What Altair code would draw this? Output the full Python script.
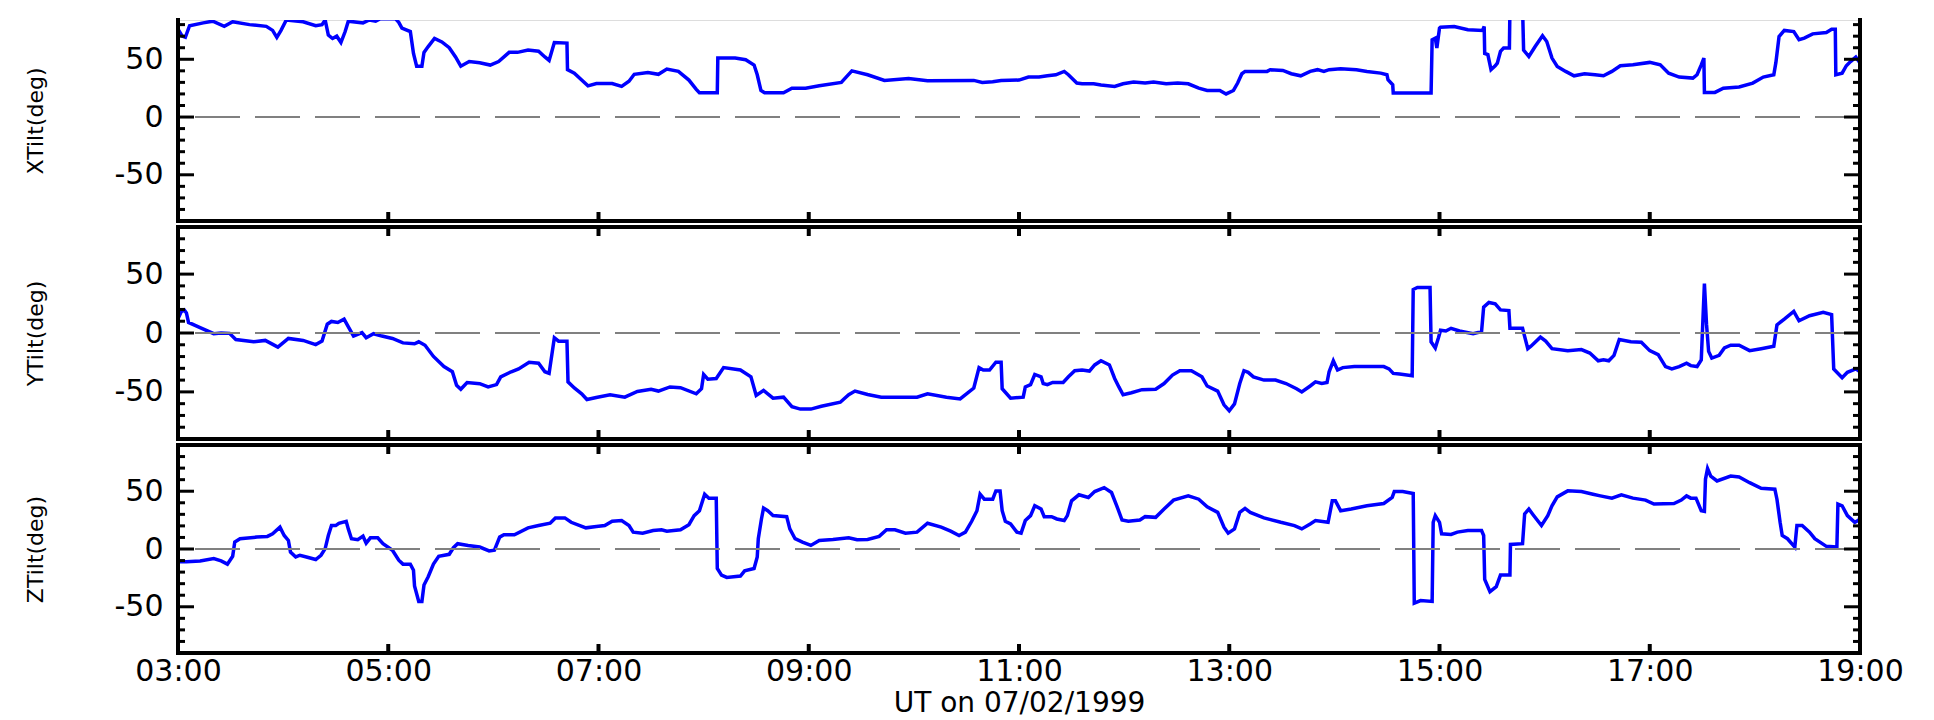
import altair as alt
import pandas as pd

FONT = "DejaVu Sans"

# ---------------- data (hours UT, degrees) ----------------
x_time = [3.00, 3.04, 3.07, 3.11, 3.24, 3.33, 3.44, 3.52, 3.68, 3.84, 3.90, 3.94, 3.98, 4.03, 4.19, 4.31,
          4.37, 4.40, 4.43, 4.47, 4.51, 4.55, 4.59, 4.62, 4.76, 4.82, 4.88, 4.92, 5.07, 5.10, 5.13, 5.21,
          5.24, 5.27, 5.32, 5.34, 5.38, 5.44, 5.51, 5.58, 5.64, 5.69, 5.77, 5.87, 5.97, 6.05, 6.15, 6.23,
          6.33, 6.43, 6.49, 6.53, 6.58, 6.70, 6.705, 6.77, 6.84, 6.90, 6.98, 7.13, 7.22, 7.29, 7.34, 7.47,
          7.57, 7.65, 7.76, 7.86, 7.93, 7.96, 8.13, 8.135, 8.30, 8.40, 8.48, 8.51, 8.545, 8.58, 8.76, 8.84,
          8.97, 9.10, 9.31, 9.41, 9.56, 9.72, 9.95, 10.13, 10.57, 10.65, 10.75, 10.83, 11.00,
          11.09, 11.19, 11.27, 11.35, 11.43, 11.47, 11.55, 11.60, 11.71, 11.78, 11.91, 11.99, 12.09, 12.20,
          12.28, 12.40, 12.51, 12.61, 12.71, 12.79, 12.91, 12.97, 13.04, 13.08, 13.12, 13.15, 13.36, 13.39,
          13.51, 13.59, 13.68, 13.77, 13.84, 13.90, 13.95, 14.06, 14.21, 14.31, 14.44, 14.50, 14.51, 14.555,
          14.56, 14.92, 14.93, 14.96, 14.975, 15.00, 15.01, 15.14, 15.27, 15.41, 15.425, 15.43, 15.46, 15.49,
          15.53, 15.55, 15.58, 15.61, 15.665, 15.67, 15.79, 15.80, 15.85, 15.91, 15.98, 16.02, 16.07, 16.12,
          16.20, 16.28, 16.38, 16.48, 16.56, 16.64, 16.72, 16.84, 17.00, 17.10, 17.18, 17.28, 17.41, 17.45,
          17.49, 17.515, 17.52, 17.62, 17.70, 17.85, 17.98, 18.08, 18.18, 18.20, 18.23, 18.28, 18.37, 18.42,
          18.47, 18.55, 18.68, 18.73, 18.765, 18.77, 18.83, 18.87, 18.91, 18.96, 19.00]
x_val = [76, 70, 69, 79, 81.5, 83, 78.5, 82.5, 80, 78.5, 75, 69, 75, 84, 82.5, 79,
         80, 84, 71, 68, 70, 64.5, 74, 83, 81.5, 84, 83, 85, 85, 82, 77, 74,
         55, 44, 44, 56, 61, 68, 65, 60, 52, 44, 48, 47, 45, 48, 56, 56,
         58, 57, 52, 49, 64.5, 64, 41, 38, 32, 27, 29, 29, 26.5, 31, 37, 38.6,
         37, 41.5, 39.5, 32, 24, 21, 21, 51, 51, 49.6, 45, 36.6, 23, 21, 21, 25,
         25, 27, 30, 40, 36.6, 31.7, 33.4, 31.4, 31.7, 30, 30.5, 31.7, 32,
         34.6, 34.6, 35.7, 36.6, 39.5, 36.6, 29.4, 28.8, 28.8, 27.7, 26.5, 28.8, 30.3, 29.4,
         30.3, 28.8, 29.4, 28.8, 25, 23, 23, 20, 23, 29.4, 37.5, 39.5, 39.5, 41,
         40.3, 37.5, 35.7, 39.5, 41, 39.5, 41, 41.8, 41, 39.5, 38, 36.6, 32.3, 28,
         20.7, 20.7, 66.9, 68.3, 59.7, 77, 77.8, 78.4, 75.5, 75, 78.4, 55, 54, 41,
         44.4, 46.7, 56.8, 59.7, 59.7, 95, 95, 58, 52.4, 61, 70.3, 65.4, 51, 43.8,
         39.5, 35.7, 37.5, 36.6, 35.7, 39.5, 44.4, 45.2, 47.3, 45.2, 38, 34.6, 33.7, 36.6,
         45.2, 51, 21.3, 21.3, 25, 26, 29.4, 34.6, 36.6, 47.3, 69.7, 75, 74, 66.9,
         68.3, 72, 73.2, 76, 76, 36.6, 38, 44.4, 48, 51.9, 46.7]

y_time = [3.00, 3.03, 3.06, 3.08, 3.10, 3.21, 3.34, 3.41, 3.49, 3.55, 3.72, 3.83, 3.95, 4.05, 4.19, 4.31,
          4.37, 4.42, 4.46, 4.52, 4.58, 4.61, 4.67, 4.75, 4.79, 4.86, 4.94, 5.04, 5.14, 5.25, 5.29, 5.35,
          5.43, 5.53, 5.61, 5.65, 5.69, 5.75, 5.87, 5.95, 6.03, 6.07, 6.17, 6.24, 6.34, 6.43, 6.49, 6.53,
          6.58, 6.62, 6.70, 6.71, 6.77, 6.84, 6.89, 6.99, 7.11, 7.25, 7.37, 7.50, 7.57, 7.68, 7.78, 7.93,
          7.98, 8.00, 8.04, 8.12, 8.19, 8.35, 8.45, 8.50, 8.57, 8.66, 8.76, 8.84, 8.92, 9.02, 9.12, 9.30,
          9.38, 9.44, 9.56, 9.69, 10.03, 10.13, 10.31, 10.44, 10.57, 10.62, 10.66, 10.72, 10.78, 10.83,
          10.84, 10.92, 11.04, 11.06, 11.11, 11.15, 11.21, 11.23, 11.27, 11.32, 11.42, 11.47, 11.53, 11.60,
          11.67, 11.72, 11.78, 11.86, 11.91, 11.95, 11.99, 12.07, 12.17, 12.30, 12.38, 12.46, 12.53, 12.64,
          12.74, 12.79, 12.89, 12.95, 13.00, 13.05, 13.10, 13.14, 13.18, 13.23, 13.33, 13.44, 13.54, 13.64,
          13.69, 13.77, 13.82, 13.88, 13.93, 13.95, 13.99, 14.03, 14.08, 14.19, 14.47, 14.52, 14.56, 14.62,
          14.74, 14.75, 14.79, 14.91, 14.92, 14.96, 14.99, 15.01, 15.06, 15.11, 15.19, 15.32, 15.40, 15.42,
          15.47, 15.53, 15.58, 15.66, 15.67, 15.79, 15.84, 15.87, 15.96, 16.01, 16.07, 16.22, 16.35, 16.43,
          16.51, 16.56, 16.61, 16.66, 16.71, 16.82, 16.92, 17.00, 17.08, 17.15, 17.21, 17.28, 17.35, 17.39,
          17.45, 17.49, 17.52, 17.54, 17.56, 17.59, 17.66, 17.71, 17.77, 17.85, 17.95, 18.06, 18.18, 18.21,
          18.28, 18.37, 18.42, 18.52, 18.65, 18.73, 18.75, 18.83, 18.88, 18.96, 19.00]
y_val = [12, 18, 19.5, 17, 9, 4.6, -0.6, 0, -0.3, -5.5, -7.5, -6.3, -12, -4.6, -6.3, -9.8,
         -6.9, 7.5, 9.8, 8.9, 11.8, 6.9, -2.6, 0.3, -4, -0.6, -2.6, -4.6, -8.4, -9.2, -7.5, -10.4,
         -19.9, -28.5, -32.9, -44.4, -47.8, -42, -43, -45.8, -43.8, -37.2, -32.9, -30.5, -24.8, -25.6, -32.9, -34.3,
         -4, -6.9, -6.9, -41.5, -46.7, -51.6, -56.5, -54.5, -52.4, -54.5, -49.6, -47.8, -49.3, -45.8, -46.4, -51.6,
         -47.3, -35.2, -39.2, -38.6, -29.4, -31.4, -37.2, -53, -48.7, -55.3, -54.5, -62.5, -64.6, -64.6, -62.2, -58.8,
         -52.4, -49.3, -52.2, -54.5, -54.5, -51.6, -54.5, -56, -46.7, -29.4, -31.4, -31.4, -24.8, -24.8,
         -47.3, -55.3, -54.5, -45.8, -43.8, -35.2, -37.2, -42.9, -43.8, -42, -42, -37.2, -32, -31.4,
         -32.3, -27.1, -23.6, -27.1, -38.6, -45.8, -52.4, -50.7, -48.1, -47.8, -42.9, -35.7, -32, -32,
         -37.2, -45, -49.3, -61, -66, -60.2, -42.9, -32, -33.4, -37.2, -40, -40, -42.9, -47.3,
         -50.1, -45, -41.5, -42.9, -42, -32.9, -23.6, -31.4, -29.4, -28.5, -28.5, -30.5, -34.3, -34.9,
         -36.3, 36.9, 38.6, 38.6, -7.5, -12.7, -4, 2.3, 1.7, 4, 1.7, -0.6, 1.2, 21.9,
         25.9, 24.8, 19.6, 19, 4, 4, -13.3, -11.2, -3.5, -6.9, -13.3, -15, -14.1, -17,
         -23.6, -22.8, -23.6, -19, -5.5, -7.5, -7.8, -15, -18.4, -28.5, -30.5, -28.5, -25.6, -27.7,
         -28.5, -22.8, 42, 7.5, -15.6, -21.3, -19, -12.7, -10.4, -10.4, -15, -13.3, -11.2, 6.9,
         11.8, 18.4, 10.4, 14.7, 17.6, 15.6, -30.5, -38, -33.4, -30.5, -32.9]

z_time = [3.00, 3.08, 3.21, 3.34, 3.41, 3.47, 3.52, 3.54, 3.59, 3.75, 3.85, 3.90, 3.97, 4.01, 4.05, 4.07,
          4.12, 4.16, 4.24, 4.31, 4.36, 4.40, 4.43, 4.46, 4.50, 4.53, 4.60, 4.62, 4.65, 4.71, 4.76, 4.79,
          4.83, 4.90, 4.95, 5.04, 5.10, 5.14, 5.21, 5.24, 5.25, 5.29, 5.32, 5.34, 5.38, 5.43, 5.48, 5.58,
          5.62, 5.66, 5.76, 5.87, 5.96, 6.01, 6.06, 6.10, 6.20, 6.33, 6.43, 6.54, 6.59, 6.68, 6.74, 6.88,
          6.98, 7.06, 7.13, 7.22, 7.29, 7.33, 7.42, 7.52, 7.60, 7.65, 7.78, 7.86, 7.91, 7.96, 8.01, 8.05,
          8.12, 8.13, 8.17, 8.22, 8.35, 8.39, 8.48, 8.51, 8.52, 8.55, 8.57, 8.61, 8.66, 8.79, 8.82, 8.87,
          8.94, 9.02, 9.10, 9.23, 9.38, 9.46, 9.56, 9.67, 9.74, 9.82, 9.92, 10.03, 10.13, 10.26, 10.35, 10.43,
          10.49, 10.55, 10.60, 10.63, 10.67, 10.75, 10.78, 10.82, 10.84, 10.87, 10.92, 10.98, 11.02, 11.06,
          11.11, 11.15, 11.21, 11.24, 11.31, 11.36, 11.43, 11.46, 11.50, 11.57, 11.66, 11.72, 11.81, 11.88,
          11.93, 11.98, 12.04, 12.15, 12.20, 12.30, 12.38, 12.47, 12.61, 12.71, 12.79, 12.89, 12.95, 12.99,
          13.05, 13.10, 13.15, 13.20, 13.33, 13.49, 13.62, 13.69, 13.77, 13.82, 13.94, 13.98, 14.01, 14.06,
          14.16, 14.31, 14.47, 14.55, 14.57, 14.65, 14.75, 14.76, 14.82, 14.93, 14.94, 14.96, 15.00, 15.02,
          15.11, 15.17, 15.27, 15.40, 15.42, 15.43, 15.48, 15.54, 15.58, 15.67, 15.675, 15.79, 15.81, 15.85,
          15.89, 15.97, 16.03, 16.07, 16.12, 16.22, 16.35, 16.46, 16.53, 16.64, 16.73, 16.84, 16.96, 17.04,
          17.23, 17.30, 17.35, 17.39, 17.44, 17.49, 17.52, 17.53, 17.55, 17.58, 17.64, 17.77, 17.85, 17.95,
          18.06, 18.19, 18.21, 18.24, 18.26, 18.31, 18.38, 18.40, 18.45, 18.52, 18.57, 18.68, 18.78, 18.79,
          18.83, 18.88, 18.95, 18.99, 19.00]
z_val = [-11, -11, -10.3, -8.3, -10.3, -13.1, -6.3, 6, 8.9, 10.3, 10.9, 13.1, 18.9, 11.7, 7.4, -2.6,
         -6.9, -5.4, -7.4, -9.1, -5.4, 0.3, 11.7, 20.3, 20.3, 22.3, 24, 17.4, 8.9, 8, 11.1, 5.1,
         9.7, 9.7, 4.6, -1.1, -9.7, -13.1, -13.1, -18.3, -32, -45.4, -45.4, -31.1, -24, -13.1, -6.3, -4.6,
         1.1, 4.6, 3.1, 1.7, -1.7, -1.1, 10.3, 12.3, 12.3, 18.3, 20.3, 22.3, 26.9, 26.9, 23.1, 18.3,
         19.4, 20.3, 24, 24.6, 20.3, 14.6, 13.7, 16, 16.6, 15.4, 16.6, 21.1, 28.9, 33.1, 47.4, 44,
         44, -16.9, -22.6, -24.6, -23.4, -18.9, -16.9, -6.9, 8.9, 26, 35.4, 33.1, 28.9, 28, 17.4, 8.9,
         6, 3.1, 7.4, 8.3, 9.7, 8, 8.3, 10.9, 16.6, 16.6, 13.7, 14.6, 22.3, 18.9, 15.4, 11.7,
         14.6, 24, 33.1, 47.4, 43.1, 43.1, 50.3, 50.3, 33.1, 24, 21.7, 14.6, 13.7, 24.6,
         28.9, 37.4, 34.6, 28, 28, 26, 24.6, 28.9, 41.7, 46.9, 44.6, 49.7, 53.1, 48.9,
         37.4, 25.1, 24, 25.1, 28, 27.4, 34.6, 42.3, 46, 43.1, 36.6, 31.7, 18.9, 13.7,
         17.4, 31.7, 35.1, 31.7, 26.9, 23.1, 20.3, 17.4, 21.7, 24.6, 23.1, 41.7, 41.7, 33.1,
         34.6, 37.4, 39.4, 44.6, 49.7, 49.7, 48, -46.9, -44.6, -45.4, 23.1, 28.9, 23.1, 13.1,
         12.6, 14.6, 16, 16, 11.7, -26.3, -36.9, -32.6, -22.6, -22.6, 4, 4.6, 30.3, 34.6,
         29.7, 20.3, 28.9, 37.4, 45.1, 50.3, 49.7, 47.4, 46, 44, 46.9, 44, 42.3, 38.9,
         39.4, 42.3, 46, 44, 44, 33.1, 32.6, 60.3, 69.7, 63.1, 58.9, 63.1, 62.3, 57.4,
         52.6, 51.7, 43.1, 23.1, 11.7, 8.9, 1.7, 20.3, 20.3, 14.6, 8.9, 2.3, 1.7, 38.9,
         37.4, 28.9, 23.1, 25.1, 28]

panel_titles = ["XTilt(deg)", "YTilt(deg)", "ZTilt(deg)"]
x_title = "UT on 07/02/1999"
hour_labels = [3, 5, 7, 9, 11, 13, 15, 17, 19]
inner_hours = [5, 7, 9, 11, 13, 15, 17]
y_labels = [-50, 0, 50]

# ---------------- layout ----------------
W = 1682
BW = 4  # frame line width
LABEL_SIZE = 30


def panel(times, vals, title, ymax, height, bottom_axis, top_border):
    xs = alt.Scale(domain=[3, 19], nice=False, zero=False)
    ys = alt.Scale(domain=[-90, ymax], nice=False, zero=False)

    df = pd.DataFrame({"t": times, "v": vals, "i": list(range(len(times)))})

    if bottom_axis:
        xaxis = alt.Axis(values=hour_labels,
                         labelExpr="(datum.value < 10 ? '0' : '') + datum.value + ':00'",
                         title=x_title, ticks=False, tickSize=0, domain=False, grid=False,
                         labelFlush=False, labelOverlap=False, labelPadding=3,
                         labelFont=FONT, labelFontSize=LABEL_SIZE, labelColor="black",
                         titleFont=FONT, titleFontSize=28, titleFontWeight="normal",
                         titleColor="black", titlePadding=3)
        xsub = {}          # other layers share the explicit axis of the line layer
    else:
        xaxis = None
        xsub = {"axis": None}

    yaxis = alt.Axis(values=y_labels, labelExpr="'' + datum.value", title=title,
                     ticks=False, tickSize=0, domain=False,
                     grid=False, labelPadding=15, labelFont=FONT, labelFontSize=LABEL_SIZE,
                     labelColor="black", titleFont=FONT, titleFontSize=22,
                     titleFontWeight="normal", titleColor="black", titleAngle=270,
                     titleBaseline="middle", titleAlign="center", titleX=-143,
                     titleY=height / 2)

    line = alt.Chart(df).mark_line(color="#0000ff", strokeWidth=3.5, clip=True).encode(
        x=alt.X("t:Q", scale=xs, axis=xaxis),
        y=alt.Y("v:Q", scale=ys, axis=yaxis),
        order=alt.Order("i:Q"),
    )

    zero = alt.Chart(pd.DataFrame({"v": [0]})).mark_rule(
        color="#808080", strokeWidth=2, strokeDash=[45, 15]).encode(
        y=alt.Y("v:Q", scale=ys))

    minor = pd.DataFrame({"v": [v for v in range(-80, int(ymax) + 1, 10) if v not in y_labels]})
    major = pd.DataFrame({"v": y_labels})

    def ytick(d, x0, x1):
        return alt.Chart(d).mark_rule(color="black", strokeWidth=3).encode(
            y=alt.Y("v:Q", scale=ys), x=alt.value(x0), x2=alt.value(x1))

    hours = pd.DataFrame({"t": inner_hours})

    def xtick(y0, y1):
        return alt.Chart(hours).mark_rule(color="black", strokeWidth=4).encode(
            x=alt.X("t:Q", scale=xs, **xsub), y=alt.value(y0), y2=alt.value(y1))

    one = pd.DataFrame({"k": [0]})

    def frame_v(x0):
        return alt.Chart(one).mark_rule(color="black", strokeWidth=BW, strokeCap="square").encode(
            x=alt.value(x0), y=alt.value(0), y2=alt.value(height))

    def frame_h(y0):
        return alt.Chart(one).mark_rule(color="black", strokeWidth=BW, strokeCap="square").encode(
            x=alt.value(0), x2=alt.value(W), y=alt.value(y0))

    layers = [line, zero,
              ytick(minor, 0, 7), ytick(major, 0, 16),
              ytick(minor, W - 7, W), ytick(major, W - 16, W),
              xtick(height - 9, height),
              frame_v(0), frame_v(W), frame_h(height)]
    if top_border:
        layers += [xtick(0, 9), frame_h(0)]
    return alt.layer(*layers).properties(width=W, height=height)


p1 = panel(x_time, x_val, panel_titles[0], 84, 201, False, False)
p2 = panel(y_time, y_val, panel_titles[1], 90, 212, False, True)
p3 = panel(z_time, z_val, panel_titles[2], 90, 208, True, True)

chart = alt.vconcat(p1, p2, p3, spacing=6, bounds="flush").properties(
    padding={"left": 15, "top": 8, "right": 10, "bottom": 0}
).configure_view(stroke=None).configure(font=FONT)

chart.save("out.html", embed_options={"renderer": "svg", "actions": False})
